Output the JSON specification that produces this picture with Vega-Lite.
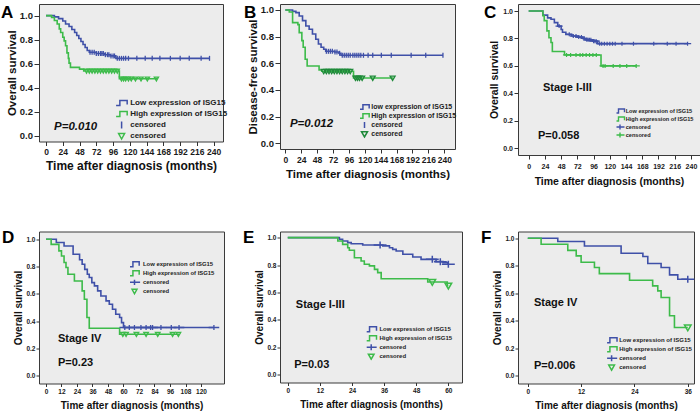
{
  "$schema": "https://vega.github.io/schema/vega-lite/v6.json",
  "padding": {"left": 0, "top": 3, "right": 0, "bottom": 0},
  "background": "white",
  "config": {
    "font": "Liberation Sans",
    "view": {"fill": "#ececec", "stroke": "#3a3a3a", "strokeWidth": 1},
    "axis": {"domain": false, "grid": false, "tickColor": "#333333", "tickWidth": 1, "tickCount": 30, "labelColor": "#1a1a1a", "titleColor": "#111111", "labelFont": "Liberation Sans", "titleFont": "Liberation Sans", "labelFontWeight": "bold", "titleFontWeight": "bold", "labelOverlap": false, "labelFlush": false, "labelBound": false},
    "legend": {"labelFont": "Liberation Sans"}
  },
  "datasets": {
    "curves": [
      {"p":"A","k":"L","t":0,"s":1},{"p":"A","k":"L","t":12,"s":0.99},{"p":"A","k":"L","t":18,"s":0.975},{"p":"A","k":"L","t":24,"s":0.955},{"p":"A","k":"L","t":28,"s":0.93},{"p":"A","k":"L","t":33,"s":0.91},{"p":"A","k":"L","t":37,"s":0.885},{"p":"A","k":"L","t":41,"s":0.86},{"p":"A","k":"L","t":44,"s":0.835},{"p":"A","k":"L","t":47,"s":0.81},{"p":"A","k":"L","t":50,"s":0.785},{"p":"A","k":"L","t":53,"s":0.76},{"p":"A","k":"L","t":56,"s":0.735},{"p":"A","k":"L","t":59,"s":0.71},{"p":"A","k":"L","t":62,"s":0.695},{"p":"A","k":"L","t":72,"s":0.685},{"p":"A","k":"L","t":84,"s":0.675},{"p":"A","k":"L","t":92,"s":0.665},{"p":"A","k":"L","t":100,"s":0.645},{"p":"A","k":"L","t":234,"s":0.645},
      {"p":"A","k":"H","t":0,"s":1},{"p":"A","k":"H","t":8,"s":0.985},{"p":"A","k":"H","t":12,"s":0.96},{"p":"A","k":"H","t":16,"s":0.93},{"p":"A","k":"H","t":19,"s":0.89},{"p":"A","k":"H","t":21,"s":0.86},{"p":"A","k":"H","t":24,"s":0.82},{"p":"A","k":"H","t":26,"s":0.79},{"p":"A","k":"H","t":28,"s":0.75},{"p":"A","k":"H","t":30,"s":0.69},{"p":"A","k":"H","t":32,"s":0.645},{"p":"A","k":"H","t":33,"s":0.605},{"p":"A","k":"H","t":35,"s":0.57},{"p":"A","k":"H","t":48,"s":0.555},{"p":"A","k":"H","t":54,"s":0.54},{"p":"A","k":"H","t":105,"s":0.475},{"p":"A","k":"H","t":159,"s":0.475},
      {"p":"B","k":"L","t":0,"s":1},{"p":"B","k":"L","t":11,"s":0.99},{"p":"B","k":"L","t":16,"s":0.98},{"p":"B","k":"L","t":21,"s":0.955},{"p":"B","k":"L","t":26,"s":0.92},{"p":"B","k":"L","t":31,"s":0.88},{"p":"B","k":"L","t":36,"s":0.855},{"p":"B","k":"L","t":41,"s":0.82},{"p":"B","k":"L","t":46,"s":0.78},{"p":"B","k":"L","t":50,"s":0.745},{"p":"B","k":"L","t":54,"s":0.72},{"p":"B","k":"L","t":58,"s":0.705},{"p":"B","k":"L","t":61,"s":0.69},{"p":"B","k":"L","t":74,"s":0.685},{"p":"B","k":"L","t":81,"s":0.675},{"p":"B","k":"L","t":84,"s":0.66},{"p":"B","k":"L","t":238,"s":0.66},
      {"p":"B","k":"H","t":0,"s":1},{"p":"B","k":"H","t":6,"s":0.985},{"p":"B","k":"H","t":11,"s":0.905},{"p":"B","k":"H","t":19,"s":0.89},{"p":"B","k":"H","t":21,"s":0.83},{"p":"B","k":"H","t":25,"s":0.77},{"p":"B","k":"H","t":27,"s":0.72},{"p":"B","k":"H","t":30,"s":0.63},{"p":"B","k":"H","t":33,"s":0.58},{"p":"B","k":"H","t":51,"s":0.55},{"p":"B","k":"H","t":55,"s":0.54},{"p":"B","k":"H","t":103,"s":0.49},{"p":"B","k":"H","t":163,"s":0.49},
      {"p":"C","k":"L","t":0,"s":1},{"p":"C","k":"L","t":21,"s":0.97},{"p":"C","k":"L","t":28,"s":0.95},{"p":"C","k":"L","t":33,"s":0.94},{"p":"C","k":"L","t":38,"s":0.915},{"p":"C","k":"L","t":43,"s":0.89},{"p":"C","k":"L","t":48,"s":0.865},{"p":"C","k":"L","t":50,"s":0.845},{"p":"C","k":"L","t":55,"s":0.83},{"p":"C","k":"L","t":63,"s":0.818},{"p":"C","k":"L","t":72,"s":0.81},{"p":"C","k":"L","t":80,"s":0.8},{"p":"C","k":"L","t":85,"s":0.79},{"p":"C","k":"L","t":95,"s":0.78},{"p":"C","k":"L","t":102,"s":0.762},{"p":"C","k":"L","t":235,"s":0.762},
      {"p":"C","k":"H","t":0,"s":1},{"p":"C","k":"H","t":21,"s":0.965},{"p":"C","k":"H","t":23,"s":0.93},{"p":"C","k":"H","t":27,"s":0.855},{"p":"C","k":"H","t":30,"s":0.805},{"p":"C","k":"H","t":33,"s":0.77},{"p":"C","k":"H","t":35,"s":0.705},{"p":"C","k":"H","t":53,"s":0.68},{"p":"C","k":"H","t":107,"s":0.6},{"p":"C","k":"H","t":159,"s":0.6},
      {"p":"D","k":"L","t":0,"s":1},{"p":"D","k":"L","t":8,"s":0.976},{"p":"D","k":"L","t":14,"s":0.951},{"p":"D","k":"L","t":21,"s":0.89},{"p":"D","k":"L","t":26,"s":0.85},{"p":"D","k":"L","t":28,"s":0.817},{"p":"D","k":"L","t":30,"s":0.78},{"p":"D","k":"L","t":32,"s":0.744},{"p":"D","k":"L","t":33.5,"s":0.72},{"p":"D","k":"L","t":35.5,"s":0.683},{"p":"D","k":"L","t":37.5,"s":0.659},{"p":"D","k":"L","t":40,"s":0.622},{"p":"D","k":"L","t":42.5,"s":0.585},{"p":"D","k":"L","t":46.5,"s":0.549},{"p":"D","k":"L","t":49,"s":0.524},{"p":"D","k":"L","t":51.5,"s":0.488},{"p":"D","k":"L","t":54,"s":0.451},{"p":"D","k":"L","t":57,"s":0.427},{"p":"D","k":"L","t":58.5,"s":0.39},{"p":"D","k":"L","t":60,"s":0.354},{"p":"D","k":"L","t":130,"s":0.354},
      {"p":"D","k":"H","t":0,"s":1},{"p":"D","k":"H","t":4,"s":0.963},{"p":"D","k":"H","t":10,"s":0.915},{"p":"D","k":"H","t":12,"s":0.878},{"p":"D","k":"H","t":14,"s":0.83},{"p":"D","k":"H","t":15.5,"s":0.793},{"p":"D","k":"H","t":17,"s":0.744},{"p":"D","k":"H","t":22,"s":0.695},{"p":"D","k":"H","t":28,"s":0.622},{"p":"D","k":"H","t":29.7,"s":0.561},{"p":"D","k":"H","t":31.7,"s":0.427},{"p":"D","k":"H","t":33.5,"s":0.349},{"p":"D","k":"H","t":57,"s":0.305},{"p":"D","k":"H","t":103,"s":0.305},
      {"p":"E","k":"L","t":0,"s":1},{"p":"E","k":"L","t":19.3,"s":0.988},{"p":"E","k":"L","t":20.5,"s":0.976},{"p":"E","k":"L","t":22.4,"s":0.964},{"p":"E","k":"L","t":23.7,"s":0.956},{"p":"E","k":"L","t":28,"s":0.947},{"p":"E","k":"L","t":35.5,"s":0.94},{"p":"E","k":"L","t":38,"s":0.927},{"p":"E","k":"L","t":39.2,"s":0.915},{"p":"E","k":"L","t":40.5,"s":0.903},{"p":"E","k":"L","t":43,"s":0.879},{"p":"E","k":"L","t":46.7,"s":0.859},{"p":"E","k":"L","t":49.8,"s":0.842},{"p":"E","k":"L","t":55.4,"s":0.825},{"p":"E","k":"L","t":58,"s":0.818},{"p":"E","k":"L","t":59.8,"s":0.806},{"p":"E","k":"L","t":60,"s":0.806},
      {"p":"E","k":"H","t":0,"s":1},{"p":"E","k":"H","t":18.7,"s":0.976},{"p":"E","k":"H","t":20.5,"s":0.951},{"p":"E","k":"H","t":22.4,"s":0.927},{"p":"E","k":"H","t":23,"s":0.908},{"p":"E","k":"H","t":24.9,"s":0.854},{"p":"E","k":"H","t":27.4,"s":0.83},{"p":"E","k":"H","t":28.6,"s":0.806},{"p":"E","k":"H","t":30.5,"s":0.794},{"p":"E","k":"H","t":32.4,"s":0.769},{"p":"E","k":"H","t":33.6,"s":0.745},{"p":"E","k":"H","t":34.9,"s":0.7},{"p":"E","k":"H","t":52.3,"s":0.677},{"p":"E","k":"H","t":59.6,"s":0.65},{"p":"E","k":"H","t":60,"s":0.65},
      {"p":"F","k":"L","t":0,"s":1},{"p":"F","k":"L","t":6.75,"s":0.976},{"p":"F","k":"L","t":12.75,"s":0.944},{"p":"F","k":"L","t":21,"s":0.891},{"p":"F","k":"L","t":25.9,"s":0.867},{"p":"F","k":"L","t":27,"s":0.816},{"p":"F","k":"L","t":30,"s":0.787},{"p":"F","k":"L","t":31.9,"s":0.734},{"p":"F","k":"L","t":33.75,"s":0.702},{"p":"F","k":"L","t":36,"s":0.702},
      {"p":"F","k":"H","t":0,"s":1},{"p":"F","k":"H","t":3,"s":0.956},{"p":"F","k":"H","t":9,"s":0.912},{"p":"F","k":"H","t":10.9,"s":0.872},{"p":"F","k":"H","t":12,"s":0.825},{"p":"F","k":"H","t":15,"s":0.787},{"p":"F","k":"H","t":16.1,"s":0.743},{"p":"F","k":"H","t":22.9,"s":0.695},{"p":"F","k":"H","t":28.1,"s":0.654},{"p":"F","k":"H","t":29.25,"s":0.617},{"p":"F","k":"H","t":30,"s":0.569},{"p":"F","k":"H","t":31.9,"s":0.436},{"p":"F","k":"H","t":33,"s":0.351},{"p":"F","k":"H","t":36,"s":0.351}
    ],
    "cens": [
      {"p":"A","k":"cL","t":63,"s":0.695},{"p":"A","k":"cL","t":66,"s":0.695},{"p":"A","k":"cL","t":69,"s":0.695},{"p":"A","k":"cL","t":72,"s":0.685},{"p":"A","k":"cL","t":75,"s":0.685},{"p":"A","k":"cL","t":78,"s":0.685},{"p":"A","k":"cL","t":80,"s":0.685},{"p":"A","k":"cL","t":82,"s":0.685},{"p":"A","k":"cL","t":85,"s":0.675},{"p":"A","k":"cL","t":88,"s":0.675},{"p":"A","k":"cL","t":90,"s":0.675},{"p":"A","k":"cL","t":93,"s":0.665},{"p":"A","k":"cL","t":96,"s":0.665},{"p":"A","k":"cL","t":98,"s":0.665},{"p":"A","k":"cL","t":102,"s":0.645},{"p":"A","k":"cL","t":105,"s":0.645},{"p":"A","k":"cL","t":108,"s":0.645},{"p":"A","k":"cL","t":111,"s":0.645},{"p":"A","k":"cL","t":114,"s":0.645},{"p":"A","k":"cL","t":118,"s":0.645},{"p":"A","k":"cL","t":130,"s":0.645},{"p":"A","k":"cL","t":142,"s":0.645},{"p":"A","k":"cL","t":152,"s":0.645},{"p":"A","k":"cL","t":163,"s":0.645},{"p":"A","k":"cL","t":178,"s":0.645},{"p":"A","k":"cL","t":192,"s":0.645},{"p":"A","k":"cL","t":205,"s":0.645},{"p":"A","k":"cL","t":222,"s":0.645},{"p":"A","k":"cL","t":234,"s":0.645},
      {"p":"A","k":"cH","t":58,"s":0.54},{"p":"A","k":"cH","t":62,"s":0.54},{"p":"A","k":"cH","t":66,"s":0.54},{"p":"A","k":"cH","t":70,"s":0.54},{"p":"A","k":"cH","t":74,"s":0.54},{"p":"A","k":"cH","t":78,"s":0.54},{"p":"A","k":"cH","t":82,"s":0.54},{"p":"A","k":"cH","t":86,"s":0.54},{"p":"A","k":"cH","t":90,"s":0.54},{"p":"A","k":"cH","t":94,"s":0.54},{"p":"A","k":"cH","t":98,"s":0.54},{"p":"A","k":"cH","t":102,"s":0.54},{"p":"A","k":"cH","t":108,"s":0.475},{"p":"A","k":"cH","t":111,"s":0.475},{"p":"A","k":"cH","t":114,"s":0.475},{"p":"A","k":"cH","t":118,"s":0.475},{"p":"A","k":"cH","t":122,"s":0.475},{"p":"A","k":"cH","t":128,"s":0.475},{"p":"A","k":"cH","t":136,"s":0.475},{"p":"A","k":"cH","t":145,"s":0.475},{"p":"A","k":"cH","t":158,"s":0.475},
      {"p":"B","k":"cL","t":62,"s":0.69},{"p":"B","k":"cL","t":65,"s":0.69},{"p":"B","k":"cL","t":68,"s":0.69},{"p":"B","k":"cL","t":71,"s":0.69},{"p":"B","k":"cL","t":75,"s":0.685},{"p":"B","k":"cL","t":78,"s":0.685},{"p":"B","k":"cL","t":82,"s":0.675},{"p":"B","k":"cL","t":86,"s":0.66},{"p":"B","k":"cL","t":89,"s":0.66},{"p":"B","k":"cL","t":92,"s":0.66},{"p":"B","k":"cL","t":95,"s":0.66},{"p":"B","k":"cL","t":98,"s":0.66},{"p":"B","k":"cL","t":102,"s":0.66},{"p":"B","k":"cL","t":105,"s":0.66},{"p":"B","k":"cL","t":108,"s":0.66},{"p":"B","k":"cL","t":111,"s":0.66},{"p":"B","k":"cL","t":114,"s":0.66},{"p":"B","k":"cL","t":118,"s":0.66},{"p":"B","k":"cL","t":125,"s":0.66},{"p":"B","k":"cL","t":132,"s":0.66},{"p":"B","k":"cL","t":145,"s":0.66},{"p":"B","k":"cL","t":160,"s":0.66},{"p":"B","k":"cL","t":190,"s":0.66},{"p":"B","k":"cL","t":212,"s":0.66},{"p":"B","k":"cL","t":238,"s":0.66},
      {"p":"B","k":"cH","t":58,"s":0.54},{"p":"B","k":"cH","t":62,"s":0.54},{"p":"B","k":"cH","t":66,"s":0.54},{"p":"B","k":"cH","t":70,"s":0.54},{"p":"B","k":"cH","t":74,"s":0.54},{"p":"B","k":"cH","t":78,"s":0.54},{"p":"B","k":"cH","t":82,"s":0.54},{"p":"B","k":"cH","t":86,"s":0.54},{"p":"B","k":"cH","t":90,"s":0.54},{"p":"B","k":"cH","t":94,"s":0.54},{"p":"B","k":"cH","t":98,"s":0.54},{"p":"B","k":"cH","t":106,"s":0.49},{"p":"B","k":"cH","t":109,"s":0.49},{"p":"B","k":"cH","t":112,"s":0.49},{"p":"B","k":"cH","t":116,"s":0.49},{"p":"B","k":"cH","t":132,"s":0.49},{"p":"B","k":"cH","t":162,"s":0.49},
      {"p":"C","k":"cL","t":45,"s":0.89},{"p":"C","k":"cL","t":60,"s":0.83},{"p":"C","k":"cL","t":66,"s":0.818},{"p":"C","k":"cL","t":70,"s":0.818},{"p":"C","k":"cL","t":74,"s":0.81},{"p":"C","k":"cL","t":78,"s":0.81},{"p":"C","k":"cL","t":82,"s":0.8},{"p":"C","k":"cL","t":86,"s":0.79},{"p":"C","k":"cL","t":88,"s":0.79},{"p":"C","k":"cL","t":90,"s":0.79},{"p":"C","k":"cL","t":92,"s":0.79},{"p":"C","k":"cL","t":96,"s":0.78},{"p":"C","k":"cL","t":98,"s":0.78},{"p":"C","k":"cL","t":100,"s":0.78},{"p":"C","k":"cL","t":105,"s":0.762},{"p":"C","k":"cL","t":108,"s":0.762},{"p":"C","k":"cL","t":112,"s":0.762},{"p":"C","k":"cL","t":116,"s":0.762},{"p":"C","k":"cL","t":120,"s":0.762},{"p":"C","k":"cL","t":124,"s":0.762},{"p":"C","k":"cL","t":128,"s":0.762},{"p":"C","k":"cL","t":138,"s":0.762},{"p":"C","k":"cL","t":155,"s":0.762},{"p":"C","k":"cL","t":185,"s":0.762},{"p":"C","k":"cL","t":205,"s":0.762},{"p":"C","k":"cL","t":218,"s":0.762},{"p":"C","k":"cL","t":235,"s":0.762},
      {"p":"C","k":"cH","t":56,"s":0.68},{"p":"C","k":"cH","t":62,"s":0.68},{"p":"C","k":"cH","t":70,"s":0.68},{"p":"C","k":"cH","t":76,"s":0.68},{"p":"C","k":"cH","t":80,"s":0.68},{"p":"C","k":"cH","t":85,"s":0.68},{"p":"C","k":"cH","t":90,"s":0.68},{"p":"C","k":"cH","t":95,"s":0.68},{"p":"C","k":"cH","t":100,"s":0.68},{"p":"C","k":"cH","t":110,"s":0.6},{"p":"C","k":"cH","t":113,"s":0.6},{"p":"C","k":"cH","t":125,"s":0.6},{"p":"C","k":"cH","t":135,"s":0.6},{"p":"C","k":"cH","t":145,"s":0.6},{"p":"C","k":"cH","t":159,"s":0.6},
      {"p":"D","k":"cL","t":61,"s":0.354},{"p":"D","k":"cL","t":64.5,"s":0.354},{"p":"D","k":"cL","t":68.5,"s":0.354},{"p":"D","k":"cL","t":73.5,"s":0.354},{"p":"D","k":"cL","t":77.5,"s":0.354},{"p":"D","k":"cL","t":81,"s":0.354},{"p":"D","k":"cL","t":82.5,"s":0.354},{"p":"D","k":"cL","t":89,"s":0.354},{"p":"D","k":"cL","t":97,"s":0.354},{"p":"D","k":"cL","t":103,"s":0.354},{"p":"D","k":"cL","t":130,"s":0.354},
      {"p":"D","k":"cH","t":59.5,"s":0.305},{"p":"D","k":"cH","t":62,"s":0.305},{"p":"D","k":"cH","t":70,"s":0.305},{"p":"D","k":"cH","t":77.5,"s":0.305},{"p":"D","k":"cH","t":86.5,"s":0.305},{"p":"D","k":"cH","t":98,"s":0.305},{"p":"D","k":"cH","t":102.5,"s":0.305},
      {"p":"E","k":"cL","t":34.5,"s":0.947},{"p":"E","k":"cL","t":54,"s":0.842},{"p":"E","k":"cL","t":57,"s":0.825},{"p":"E","k":"cL","t":60,"s":0.806},
      {"p":"E","k":"cH","t":54,"s":0.677},{"p":"E","k":"cH","t":60,"s":0.65},
      {"p":"F","k":"cL","t":36,"s":0.702},
      {"p":"F","k":"cH","t":36,"s":0.351}
    ],
    "notes": [
      {"p":"A","t":11.5,"s":0.07,"txt":"P=0.010"},
      {"p":"B","t":7,"s":0.145,"txt":"P=0.012"},
      {"p":"C","t":21,"s":0.44,"txt":"Stage I-III"},{"p":"C","t":13.8,"s":0.09,"txt":"P=0.058"},
      {"p":"D","t":9.3,"s":0.27,"txt":"Stage IV"},{"p":"D","t":9.3,"s":0.095,"txt":"P=0.23"},
      {"p":"E","t":3,"s":0.51,"txt":"Stage I-III"},{"p":"E","t":2.4,"s":0.07,"txt":"P=0.03"},
      {"p":"F","t":1.4,"s":0.53,"txt":"Stage IV"},{"p":"F","t":1.4,"s":0.073,"txt":"P=0.006"}
    ]
  },
  "bounds": "flush",
  "columns": 3,
  "spacing": {"row": 76.5, "column": 56},
  "resolve": {"scale": {"color": "independent", "shape": "independent"}, "legend": {"color": "independent", "shape": "independent"}},
  "concat": [
    {
      "width": 184, "height": 137.5,
      "layer": [
        {
          "data": {"name": "curves"},
          "transform": [{"filter": "datum.p === 'A'"}],
          "mark": {"type": "line", "interpolate": "step-after", "strokeWidth": 1.6},
          "encoding": {
            "x": {"field": "t", "type": "quantitative", "scale": {"domain": [-10, 253.3], "nice": false, "zero": false}, "axis": {"values": [0,24,48,72,96,120,144,168,192,216,240], "tickCount": 30, "title": "Time after diagnosis (months)", "labelFontSize": 8.5, "labelOverlap": false, "tickSize": 4, "labelPadding": 1.5, "titleFontSize": 12, "titlePadding": 5}},
            "y": {"field": "s", "type": "quantitative", "scale": {"domain": [-0.047, 1.097], "nice": false, "zero": false}, "axis": {"values": [0,0.2,0.4,0.6,0.8,1], "tickCount": 30, "format": ".1f", "title": "Overall survival", "labelFontSize": 9.5, "labelOverlap": false, "tickSize": 5, "labelPadding": 1.5, "titleFontSize": 11.5, "titlePadding": 2}},
            "color": {"field": "k", "type": "nominal", "scale": {"domain": ["L","H","cL","cH"], "range": ["#3f50a8","#3dbb4a","#3f50a8","#3dbb4a"]}}
          }
        },
        {
          "data": {"name": "cens"},
          "transform": [{"filter": "datum.p === 'A'"}],
          "mark": {"type": "point", "filled": false, "opacity": 1, "size": 38, "strokeWidth": 1.3},
          "encoding": {
            "x": {"field": "t", "type": "quantitative"},
            "y": {"field": "s", "type": "quantitative"},
            "color": {"field": "k", "type": "nominal", "scale": {"domain": ["L","H","cL","cH"], "range": ["#3f50a8","#3dbb4a","#3f50a8","#3dbb4a"]},
              "legend": {"title": null, "orient": "none", "legendX": 77.1, "legendY": 93.6, "padding": 0, "symbolSize": 76, "symbolStrokeWidth": 1.5, "clipHeight": 10.7, "labelFontSize": 8, "labelFontWeight": "bold", "labelColor": "#222222", "labelOffset": 3.1, "rowPadding": 0, "labelExpr": "datum.label == 'L' ? 'Low expression of ISG15' : datum.label == 'H' ? 'High expression of ISG15' : 'censored'"}},
            "shape": {"field": "k", "type": "nominal", "scale": {"domain": ["L","H","cL","cH"], "range": ["M-1.7,0.57H-0.4V-0.57H1.28V0.35","M-1.7,0.57H-0.4V-0.57H1.28V0.35","M0,-0.8V0.8","M-0.69,-0.55L0.69,-0.55L0,0.7Z"]},
              "legend": {"title": null, "orient": "none", "legendX": 77.1, "legendY": 93.6, "padding": 0, "symbolSize": 76, "symbolStrokeWidth": 1.5, "clipHeight": 10.7, "labelFontSize": 8, "labelFontWeight": "bold", "labelColor": "#222222", "labelOffset": 3.1, "rowPadding": 0, "labelExpr": "datum.label == 'L' ? 'Low expression of ISG15' : datum.label == 'H' ? 'High expression of ISG15' : 'censored'"}}
          }
        },
        {
          "data": {"name": "notes"},
          "transform": [{"filter": "datum.p === 'A'"}],
          "mark": {"type": "text", "align": "left", "baseline": "middle", "fontSize": 11.5, "fontWeight": "bold", "fontStyle": "italic", "color": "#111111"},
          "encoding": {"x": {"field": "t", "type": "quantitative"}, "y": {"field": "s", "type": "quantitative"}, "text": {"field": "txt"}}
        },
        {
          "data": {"values": [{"lab": "A"}]},
          "mark": {"type": "text", "align": "left", "baseline": "alphabetic", "fontSize": 17, "fontWeight": "bold", "color": "#000000"},
          "encoding": {"x": {"datum": -64.4}, "y": {"datum": 0.98}, "text": {"field": "lab"}}
        }
      ]
    },
    {
      "width": 175, "height": 145,
      "layer": [
        {
          "data": {"name": "curves"},
          "transform": [{"filter": "datum.p === 'B'"}],
          "mark": {"type": "line", "interpolate": "step-after", "strokeWidth": 1.6},
          "encoding": {
            "x": {"field": "t", "type": "quantitative", "scale": {"domain": [-8, 256.2], "nice": false, "zero": false}, "axis": {"values": [0,24,48,72,96,120,144,168,192,216,240], "tickCount": 30, "title": "Time after diagnosis (months)", "labelFontSize": 8.5, "labelOverlap": false, "tickSize": 4, "labelPadding": 2, "titleFontSize": 11.5, "titlePadding": 5}},
            "y": {"field": "s", "type": "quantitative", "scale": {"domain": [-0.043, 1.045], "nice": false, "zero": false}, "axis": {"values": [0,0.2,0.4,0.6,0.8,1], "tickCount": 30, "format": ".1f", "title": "Disease-free survival", "labelFontSize": 9.5, "labelOverlap": false, "tickSize": 5, "labelPadding": 1.5, "titleFontSize": 11.5, "titlePadding": 2}},
            "color": {"field": "k", "type": "nominal", "scale": {"domain": ["L","H","cL","cH"], "range": ["#3f50a8","#3dbb4a","#3f50a8","#1f8a3a"]}}
          }
        },
        {
          "data": {"name": "cens"},
          "transform": [{"filter": "datum.p === 'B'"}],
          "mark": {"type": "point", "filled": false, "opacity": 1, "size": 34, "strokeWidth": 1.3},
          "encoding": {
            "x": {"field": "t", "type": "quantitative"},
            "y": {"field": "s", "type": "quantitative"},
            "color": {"field": "k", "type": "nominal", "scale": {"domain": ["L","H","cL","cH"], "range": ["#3f50a8","#3dbb4a","#3f50a8","#1f8a3a"]},
              "legend": {"title": null, "orient": "none", "legendX": 80, "legendY": 98.5, "padding": 0, "symbolSize": 49, "symbolStrokeWidth": 1.5, "clipHeight": 9, "labelFontSize": 7, "labelFontWeight": "bold", "labelColor": "#222222", "labelOffset": 2.3, "rowPadding": 0, "labelExpr": "datum.label == 'L' ? 'low expression of ISG15' : datum.label == 'H' ? 'High expression of ISG15' : 'censored'"}},
            "shape": {"field": "k", "type": "nominal", "scale": {"domain": ["L","H","cL","cH"], "range": ["M-1.8,0.64H-0.45V-0.64H1.34V0.4","M-1.8,0.64H-0.45V-0.64H1.34V0.4","M0,-0.86V0.86","M-0.86,-0.65L0.86,-0.65L0,0.85Z"]},
              "legend": {"title": null, "orient": "none", "legendX": 80, "legendY": 98.5, "padding": 0, "symbolSize": 49, "symbolStrokeWidth": 1.5, "clipHeight": 9, "labelFontSize": 7, "labelFontWeight": "bold", "labelColor": "#222222", "labelOffset": 2.3, "rowPadding": 0, "labelExpr": "datum.label == 'L' ? 'low expression of ISG15' : datum.label == 'H' ? 'High expression of ISG15' : 'censored'"}}
          }
        },
        {
          "data": {"name": "notes"},
          "transform": [{"filter": "datum.p === 'B'"}],
          "mark": {"type": "text", "align": "left", "baseline": "middle", "fontSize": 11.5, "fontWeight": "bold", "fontStyle": "italic", "color": "#111111"},
          "encoding": {"x": {"field": "t", "type": "quantitative"}, "y": {"field": "s", "type": "quantitative"}, "text": {"field": "txt"}}
        },
        {
          "data": {"values": [{"lab": "B"}]},
          "mark": {"type": "text", "align": "left", "baseline": "alphabetic", "fontSize": 17, "fontWeight": "bold", "color": "#000000"},
          "encoding": {"x": {"datum": -62.3}, "y": {"datum": 0.94}, "text": {"field": "lab"}}
        }
      ]
    },
    {
      "width": 182, "height": 151,
      "layer": [
        {
          "data": {"name": "curves"},
          "transform": [{"filter": "datum.p === 'C'"}],
          "mark": {"type": "line", "interpolate": "step-after", "strokeWidth": 1.6},
          "encoding": {
            "x": {"field": "t", "type": "quantitative", "scale": {"domain": [-15.8, 253.4], "nice": false, "zero": false}, "axis": {"values": [0,24,48,72,96,120,144,168,192,216,240], "tickCount": 30, "title": "Time after diagnosis (months)", "labelFontSize": 7, "labelOverlap": false, "tickSize": 4, "labelPadding": 3, "titleFontSize": 10.5, "titlePadding": 7}},
            "y": {"field": "s", "type": "quantitative", "scale": {"domain": [-0.049, 1.051], "nice": false, "zero": false}, "axis": {"values": [0,0.2,0.4,0.6,0.8,1], "tickCount": 30, "format": ".1f", "title": "Overall survival", "labelFontSize": 7, "labelOverlap": false, "tickSize": 4, "labelPadding": 1.5, "titleFontSize": 10.5, "titlePadding": 3}},
            "color": {"field": "k", "type": "nominal", "scale": {"domain": ["L","H","cL","cH"], "range": ["#3f50a8","#3dbb4a","#3f50a8","#3dbb4a"]}}
          }
        },
        {
          "data": {"name": "cens"},
          "transform": [{"filter": "datum.p === 'C'"}],
          "mark": {"type": "point", "filled": false, "opacity": 1, "size": 16, "strokeWidth": 1.2},
          "encoding": {
            "x": {"field": "t", "type": "quantitative"},
            "y": {"field": "s", "type": "quantitative"},
            "color": {"field": "k", "type": "nominal", "scale": {"domain": ["L","H","cL","cH"], "range": ["#3f50a8","#3dbb4a","#3f50a8","#3dbb4a"]},
              "legend": {"title": null, "orient": "none", "legendX": 98.5, "legendY": 103.5, "padding": 0, "symbolSize": 25, "symbolStrokeWidth": 1.4, "clipHeight": 7, "labelFontSize": 5.6, "labelFontWeight": "bold", "labelColor": "#222222", "labelOffset": 2.2, "rowPadding": 0, "labelExpr": "datum.label == 'L' ? 'Low expression of ISG15' : datum.label == 'H' ? 'High expression of ISG15' : 'censored'"}},
            "shape": {"field": "k", "type": "nominal", "scale": {"domain": ["L","H","cL","cH"], "range": ["M-2.2,0.8H-0.6V-0.8H1.8V0.5","M-2.2,0.8H-0.6V-0.8H1.8V0.5","M-1.8,0H1.8M0,-1V1","M-1.8,0H1.8M0,-1V1"]},
              "legend": {"title": null, "orient": "none", "legendX": 98.5, "legendY": 103.5, "padding": 0, "symbolSize": 25, "symbolStrokeWidth": 1.4, "clipHeight": 7, "labelFontSize": 5.6, "labelFontWeight": "bold", "labelColor": "#222222", "labelOffset": 2.2, "rowPadding": 0, "labelExpr": "datum.label == 'L' ? 'Low expression of ISG15' : datum.label == 'H' ? 'High expression of ISG15' : 'censored'"}}
          }
        },
        {
          "data": {"name": "notes"},
          "transform": [{"filter": "datum.p === 'C'"}],
          "mark": {"type": "text", "align": "left", "baseline": "middle", "fontSize": 11, "fontWeight": "bold", "color": "#111111"},
          "encoding": {"x": {"field": "t", "type": "quantitative"}, "y": {"field": "s", "type": "quantitative"}, "text": {"field": "txt"}}
        },
        {
          "data": {"values": [{"lab": "C"}]},
          "mark": {"type": "text", "align": "left", "baseline": "alphabetic", "fontSize": 17, "fontWeight": "bold", "color": "#000000"},
          "encoding": {"x": {"datum": -66.1}, "y": {"datum": 0.949}, "text": {"field": "lab"}}
        }
      ]
    },
    {
      "width": 185, "height": 152,
      "layer": [
        {
          "data": {"name": "curves"},
          "transform": [{"filter": "datum.p === 'D'"}],
          "mark": {"type": "line", "interpolate": "step-after", "strokeWidth": 1.6},
          "encoding": {
            "x": {"field": "t", "type": "quantitative", "scale": {"domain": [-5.4, 137.8], "nice": false, "zero": false}, "axis": {"values": [0,12,24,36,48,60,72,84,96,108,120], "tickCount": 30, "title": "Time after diagnosis (months)", "labelFontSize": 6.5, "labelOverlap": false, "tickSize": 3, "labelPadding": 2, "titleFontSize": 10, "titlePadding": 5}},
            "y": {"field": "s", "type": "quantitative", "scale": {"domain": [-0.056, 1.057], "nice": false, "zero": false}, "axis": {"values": [0,0.2,0.4,0.6,0.8,1], "tickCount": 30, "format": ".1f", "title": "Overall survival", "labelFontSize": 6.5, "labelOverlap": false, "tickSize": 3, "labelPadding": 1, "titleFontSize": 10, "titlePadding": 2}},
            "color": {"field": "k", "type": "nominal", "scale": {"domain": ["L","H","cL","cH"], "range": ["#3f50a8","#3dbb4a","#3f50a8","#3dbb4a"]}}
          }
        },
        {
          "data": {"name": "cens"},
          "transform": [{"filter": "datum.p === 'D'"}],
          "mark": {"type": "point", "filled": false, "opacity": 1, "size": 44, "strokeWidth": 1.3},
          "encoding": {
            "x": {"field": "t", "type": "quantitative"},
            "y": {"field": "s", "type": "quantitative"},
            "color": {"field": "k", "type": "nominal", "scale": {"domain": ["L","H","cL","cH"], "range": ["#3f50a8","#3dbb4a","#3f50a8","#3dbb4a"]},
              "legend": {"title": null, "orient": "none", "legendX": 91, "legendY": 28.3, "padding": 0, "symbolSize": 49, "symbolStrokeWidth": 1.5, "clipHeight": 9, "labelFontSize": 5.9, "labelFontWeight": "bold", "labelColor": "#222222", "labelOffset": 4, "rowPadding": 0, "labelExpr": "datum.label == 'L' ? 'Low expression of ISG15' : datum.label == 'H' ? 'High expression of ISG15' : 'censored'"}},
            "shape": {"field": "k", "type": "nominal", "scale": {"domain": ["L","H","cL","cH"], "range": ["M-1.8,0.7H-0.45V-0.7H1.34V0.45","M-1.8,0.7H-0.45V-0.7H1.34V0.45","M-1.6,0H1.6M0,-0.75V0.75","M-0.7,-0.55L0.7,-0.55L0,0.7Z"]},
              "legend": {"title": null, "orient": "none", "legendX": 91, "legendY": 28.3, "padding": 0, "symbolSize": 49, "symbolStrokeWidth": 1.5, "clipHeight": 9, "labelFontSize": 5.9, "labelFontWeight": "bold", "labelColor": "#222222", "labelOffset": 4, "rowPadding": 0, "labelExpr": "datum.label == 'L' ? 'Low expression of ISG15' : datum.label == 'H' ? 'High expression of ISG15' : 'censored'"}}
          }
        },
        {
          "data": {"name": "notes"},
          "transform": [{"filter": "datum.p === 'D'"}],
          "mark": {"type": "text", "align": "left", "baseline": "middle", "fontSize": 11, "fontWeight": "bold", "color": "#111111"},
          "encoding": {"x": {"field": "t", "type": "quantitative"}, "y": {"field": "s", "type": "quantitative"}, "text": {"field": "txt"}}
        },
        {
          "data": {"values": [{"lab": "D"}]},
          "mark": {"type": "text", "align": "left", "baseline": "alphabetic", "fontSize": 17, "fontWeight": "bold", "color": "#000000"},
          "encoding": {"x": {"datum": -34.0}, "y": {"datum": 0.973}, "text": {"field": "lab"}}
        }
      ]
    },
    {
      "width": 182, "height": 151,
      "layer": [
        {
          "data": {"name": "curves"},
          "transform": [{"filter": "datum.p === 'E'"}],
          "mark": {"type": "line", "interpolate": "step-after", "strokeWidth": 1.6},
          "encoding": {
            "x": {"field": "t", "type": "quantitative", "scale": {"domain": [-2.9, 65.1], "nice": false, "zero": false}, "axis": {"values": [0,12,24,36,48,60], "tickCount": 30, "title": "Time after diagnosis (months)", "labelFontSize": 6.5, "labelOverlap": false, "tickSize": 3, "labelPadding": 2, "titleFontSize": 10, "titlePadding": 5}},
            "y": {"field": "s", "type": "quantitative", "scale": {"domain": [-0.056, 1.045], "nice": false, "zero": false}, "axis": {"values": [0,0.2,0.4,0.6,0.8,1], "tickCount": 30, "format": ".1f", "title": "Overall survival", "labelFontSize": 6.5, "labelOverlap": false, "tickSize": 3, "labelPadding": 1, "titleFontSize": 10, "titlePadding": 2}},
            "color": {"field": "k", "type": "nominal", "scale": {"domain": ["L","H","cL","cH"], "range": ["#3f50a8","#3dbb4a","#3f50a8","#3dbb4a"]}}
          }
        },
        {
          "data": {"name": "cens"},
          "transform": [{"filter": "datum.p === 'E'"}],
          "mark": {"type": "point", "filled": false, "opacity": 1, "size": 61, "strokeWidth": 1.5},
          "encoding": {
            "x": {"field": "t", "type": "quantitative"},
            "y": {"field": "s", "type": "quantitative"},
            "color": {"field": "k", "type": "nominal", "scale": {"domain": ["L","H","cL","cH"], "range": ["#3f50a8","#3dbb4a","#3f50a8","#3dbb4a"]},
              "legend": {"title": null, "orient": "none", "legendX": 86.7, "legendY": 93.5, "padding": 0, "symbolSize": 44, "symbolStrokeWidth": 1.5, "clipHeight": 8.6, "labelFontSize": 6, "labelFontWeight": "bold", "labelColor": "#222222", "labelOffset": 3.7, "rowPadding": 0, "labelExpr": "datum.label == 'L' ? 'Low expression of ISG15' : datum.label == 'H' ? 'High expression of ISG15' : 'censored'"}},
            "shape": {"field": "k", "type": "nominal", "scale": {"domain": ["L","H","cL","cH"], "range": ["M-2,0.75H-0.5V-0.75H1.6V0.45","M-2,0.75H-0.5V-0.75H1.6V0.45","M-1.65,0H1.65M0,-0.9V0.9","M-0.85,-0.65L0.85,-0.65L0,0.85Z"]},
              "legend": {"title": null, "orient": "none", "legendX": 86.7, "legendY": 93.5, "padding": 0, "symbolSize": 44, "symbolStrokeWidth": 1.5, "clipHeight": 8.6, "labelFontSize": 6, "labelFontWeight": "bold", "labelColor": "#222222", "labelOffset": 3.7, "rowPadding": 0, "labelExpr": "datum.label == 'L' ? 'Low expression of ISG15' : datum.label == 'H' ? 'High expression of ISG15' : 'censored'"}}
          }
        },
        {
          "data": {"name": "notes"},
          "transform": [{"filter": "datum.p === 'E'"}],
          "mark": {"type": "text", "align": "left", "baseline": "middle", "fontSize": 11, "fontWeight": "bold", "color": "#111111"},
          "encoding": {"x": {"field": "t", "type": "quantitative"}, "y": {"field": "s", "type": "quantitative"}, "text": {"field": "txt"}}
        },
        {
          "data": {"values": [{"lab": "E"}]},
          "mark": {"type": "text", "align": "left", "baseline": "alphabetic", "fontSize": 17, "fontWeight": "bold", "color": "#000000"},
          "encoding": {"x": {"datum": -16.7}, "y": {"datum": 0.961}, "text": {"field": "lab"}}
        }
      ]
    },
    {
      "width": 176, "height": 152,
      "layer": [
        {
          "data": {"name": "curves"},
          "transform": [{"filter": "datum.p === 'F'"}],
          "mark": {"type": "line", "interpolate": "step-after", "strokeWidth": 1.6},
          "encoding": {
            "x": {"field": "t", "type": "quantitative", "scale": {"domain": [-2.2, 37.4], "nice": false, "zero": false}, "axis": {"values": [0,12,24,36], "tickCount": 30, "title": "Time after diagnosis (months)", "labelFontSize": 6.5, "labelOverlap": false, "tickSize": 3, "labelPadding": 2, "titleFontSize": 10, "titlePadding": 5}},
            "y": {"field": "s", "type": "quantitative", "scale": {"domain": [-0.056, 1.049], "nice": false, "zero": false}, "axis": {"values": [0,0.2,0.4,0.6,0.8,1], "tickCount": 30, "format": ".1f", "title": "Overall survival", "labelFontSize": 6.5, "labelOverlap": false, "tickSize": 3, "labelPadding": 1, "titleFontSize": 10, "titlePadding": 2}},
            "color": {"field": "k", "type": "nominal", "scale": {"domain": ["L","H","cL","cH"], "range": ["#3f50a8","#3dbb4a","#3f50a8","#3dbb4a"]}}
          }
        },
        {
          "data": {"name": "cens"},
          "transform": [{"filter": "datum.p === 'F'"}],
          "mark": {"type": "point", "filled": false, "opacity": 1, "size": 61, "strokeWidth": 1.5},
          "encoding": {
            "x": {"field": "t", "type": "quantitative"},
            "y": {"field": "s", "type": "quantitative"},
            "color": {"field": "k", "type": "nominal", "scale": {"domain": ["L","H","cL","cH"], "range": ["#3f50a8","#3dbb4a","#3f50a8","#3dbb4a"]},
              "legend": {"title": null, "orient": "none", "legendX": 89.1, "legendY": 104.4, "padding": 0, "symbolSize": 46, "symbolStrokeWidth": 1.5, "clipHeight": 8.8, "labelFontSize": 6, "labelFontWeight": "bold", "labelColor": "#222222", "labelOffset": 3.1, "rowPadding": 0, "labelExpr": "datum.label == 'L' ? 'Low expression of ISG15' : datum.label == 'H' ? 'High expression of ISG15' : 'censored'"}},
            "shape": {"field": "k", "type": "nominal", "scale": {"domain": ["L","H","cL","cH"], "range": ["M-2,0.75H-0.5V-0.75H1.6V0.45","M-2,0.75H-0.5V-0.75H1.6V0.45","M-1.65,0H1.65M0,-0.9V0.9","M-0.85,-0.65L0.85,-0.65L0,0.85Z"]},
              "legend": {"title": null, "orient": "none", "legendX": 89.1, "legendY": 104.4, "padding": 0, "symbolSize": 46, "symbolStrokeWidth": 1.5, "clipHeight": 8.8, "labelFontSize": 6, "labelFontWeight": "bold", "labelColor": "#222222", "labelOffset": 3.1, "rowPadding": 0, "labelExpr": "datum.label == 'L' ? 'Low expression of ISG15' : datum.label == 'H' ? 'High expression of ISG15' : 'censored'"}}
          }
        },
        {
          "data": {"name": "notes"},
          "transform": [{"filter": "datum.p === 'F'"}],
          "mark": {"type": "text", "align": "left", "baseline": "middle", "fontSize": 11, "fontWeight": "bold", "color": "#111111"},
          "encoding": {"x": {"field": "t", "type": "quantitative"}, "y": {"field": "s", "type": "quantitative"}, "text": {"field": "txt"}}
        },
        {
          "data": {"values": [{"lab": "F"}]},
          "mark": {"type": "text", "align": "left", "baseline": "alphabetic", "fontSize": 17, "fontWeight": "bold", "color": "#000000"},
          "encoding": {"x": {"datum": -10.5}, "y": {"datum": 0.965}, "text": {"field": "lab"}}
        }
      ]
    }
  ]
}
